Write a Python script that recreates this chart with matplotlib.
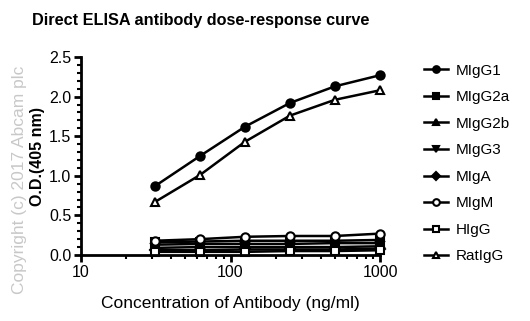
import matplotlib
matplotlib.use("Agg")
import matplotlib.pyplot as plt
from matplotlib.ticker import MultipleLocator, FixedLocator, NullFormatter
import numpy as np

plt.rcParams['font.family'] = ['Liberation Sans', 'DejaVu Sans']

conc = [31.25, 62.5, 125, 250, 500, 1000]
series_names = ["MIgG1", "MIgG2a", "MIgG2b", "MIgG3", "MIgA", "MIgM", "HIgG", "RatIgG"]
migg1 = [0.87, 1.25, 1.62, 1.92, 2.13, 2.27]
migg2a = [0.16, 0.17, 0.18, 0.18, 0.18, 0.19]
migg2b = [0.13, 0.14, 0.14, 0.14, 0.15, 0.15]
migg3 = [0.09, 0.10, 0.10, 0.10, 0.10, 0.11]
miga = [0.06, 0.06, 0.07, 0.07, 0.07, 0.08]
migm = [0.18, 0.20, 0.23, 0.24, 0.24, 0.27]
higg = [0.04, 0.04, 0.04, 0.05, 0.05, 0.06]
ratigg = [0.67, 1.01, 1.43, 1.76, 1.96, 2.08]
values = [migg1, migg2a, migg2b, migg3, miga, migm, higg, ratigg]
markers = ['o', 's', '^', 'v', 'D', 'o', 's', '^']
filled = [True, True, True, True, True, False, False, False]

fig = plt.figure(figsize=(5.30, 3.21), dpi=100)
ax = fig.add_axes([81/530, 1 - 255/321, (380-81)/530, (255-57)/321])

for name, v, m, f in zip(series_names, values, markers, filled):
    ax.plot(conc, v, color='black', lw=1.8, marker=m,
            ms=6 if m != 'D' else 5,
            markerfacecolor='black' if f else 'white',
            markeredgecolor='black', markeredgewidth=1.5, label=name,
            clip_on=False)

ax.set_xscale('log')
ax.set_xlim(10, 1000)
ax.set_ylim(0, 2.5)
ax.set_xticks([10, 100, 1000])
ax.set_xticklabels(['10', '100', '1000'])
ax.xaxis.set_minor_locator(FixedLocator([i * 10**k for k in (1, 2) for i in range(2, 10)]))
ax.xaxis.set_minor_formatter(NullFormatter())
ax.yaxis.set_major_locator(MultipleLocator(0.5))
ax.yaxis.set_minor_locator(MultipleLocator(0.1))
ax.set_yticklabels([f"{t:.1f}" for t in ax.get_yticks()])

for s in ['top', 'right']:
    ax.spines[s].set_visible(False)
for s in ['left', 'bottom']:
    ax.spines[s].set_linewidth(2)
ax.tick_params(which='major', length=5, width=2, labelsize=11.5, pad=2)
ax.tick_params(which='minor', length=3, width=1.5)

ax.set_xlabel('Concentration of Antibody (ng/ml)', fontsize=12.5, labelpad=12)
ax.set_ylabel('O.D.(405 nm)', fontsize=11.5, fontweight='bold', labelpad=3)
fig.text(20/530, 1 - 180/321, 'Copyright (c) 2017 Abcam plc', rotation=90, color='#c8c8c8',
         fontsize=12.5, ha='center', va='center')
fig.text(32/530, 1 - 20/321, 'Direct ELISA antibody dose-response curve', fontsize=11.7,
         fontweight='bold', ha='left', va='center')

leg = ax.legend(loc='upper left', bbox_to_anchor=(410/530, 1 - 50/321),
                bbox_transform=fig.transFigure, frameon=False, fontsize=11,
                handlelength=1.6, handletextpad=0.5, labelspacing=0.82, markerscale=0.8)

fig.savefig('out.png', dpi=100)
